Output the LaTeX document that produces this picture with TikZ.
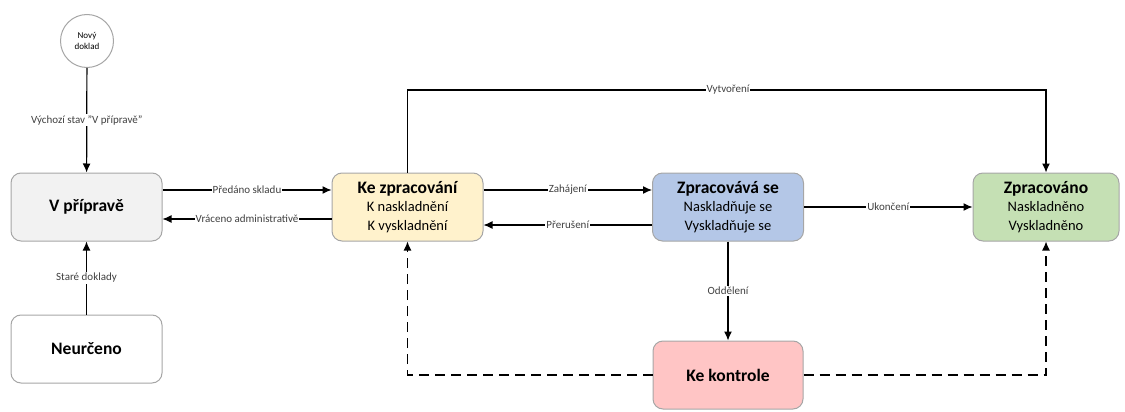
\documentclass[tikz,border=0pt]{standalone}
\usepackage{fontspec}
\setmainfont{Carlito}
\usetikzlibrary{arrows.meta}

\definecolor{ramecek}{HTML}{A6A6A6}
\definecolor{popisek}{HTML}{404040}
\definecolor{priprava}{HTML}{F2F2F2}
\definecolor{kezprac}{HTML}{FFF2CC}
\definecolor{zpracovava}{HTML}{B4C7E7}
\definecolor{zpracovano}{HTML}{C5E0B4}
\definecolor{kontrola}{HTML}{FFC5C5}

\newcommand{\titulek}[1]{{\fontsize{17.5}{18.5}\selectfont\bfseries #1}}

\begin{document}
\begin{tikzpicture}[x=1pt,y=-1pt,
	stav/.style={draw=ramecek, line width=1pt, rounded corners=10pt, minimum width=151pt, minimum height=68pt, align=center, font=\fontsize{14.5}{18.5}\selectfont},
	sipka/.style={line width=1.2pt, -{Latex[length=9pt,width=8pt]}},
	lbl/.style={fill=white, inner sep=1pt, text=popisek, font=\fontsize{11}{13}\selectfont},
	carkovane/.style={dash pattern=on 10pt off 6pt}]
	\useasboundingbox (0,0) rectangle (1125,412);

	%states
	\node[circle, draw=ramecek, line width=1pt, minimum size=53pt, align=center, inner sep=0pt, font=\fontsize{9}{11}\selectfont] (novy) at (87,41) {Nový\\doklad};
	\node[stav, fill=priprava] (priprava) at (86.5,207) {\titulek{V přípravě}};
	\node[stav, fill=white] (neurceno) at (86.5,349) {\titulek{Neurčeno}};
	\node[stav, fill=kezprac] (kezprac) at (407.5,207) {\titulek{Ke zpracování}\\K naskladnění\\K vyskladnění};
	\node[stav, fill=zpracovava] (zpracovava) at (728,207) {\titulek{Zpracovává se}\\Naskladňuje se\\Vyskladňuje se};
	\node[stav, fill=zpracovano, minimum width=146pt] (zpracovano) at (1046,207) {\titulek{Zpracováno}\\Naskladněno\\Vyskladněno};
	\node[stav, fill=kontrola, minimum width=150pt] (kekontrole) at (728,375) {\titulek{Ke kontrole}};
	\coordinate (horni) at (728,90);	%top of the long loop

	%transitions
	\draw[sipka] (novy) -- node[lbl] {Výchozí stav "V přípravě"} (priprava);
	\draw[sipka] (neurceno) -- node[lbl] {Staré doklady} (priprava);
	\draw[sipka] ([yshift=17pt]priprava.east) -- node[lbl] {Předáno skladu} ([yshift=17pt]kezprac.west);
	\draw[sipka] ([yshift=-12pt]kezprac.west) -- node[lbl] {Vráceno administrativě} ([yshift=-12pt]priprava.east);
	\draw[sipka] ([yshift=17pt]kezprac.east) -- node[lbl] {Zahájení} ([yshift=17pt]zpracovava.west);
	\draw[sipka] ([yshift=-18pt]zpracovava.west) -- node[lbl] {Přerušení} ([yshift=-18pt]kezprac.east);
	\draw[sipka] (zpracovava.east) -- node[lbl] {Ukončení} (zpracovano.west);
	\draw[sipka] (zpracovava.south) -- node[lbl] {Oddělení} (kekontrole.north);
	\draw[sipka] (kezprac.north) |- (horni) node[lbl] {Vytvoření} -| (zpracovano.north);

	%return from control
	\draw[sipka, carkovane] (kekontrole.west) -| (kezprac.south);
	\draw[sipka, carkovane] (kekontrole.east) -| (zpracovano.south);
\end{tikzpicture}
\end{document}
